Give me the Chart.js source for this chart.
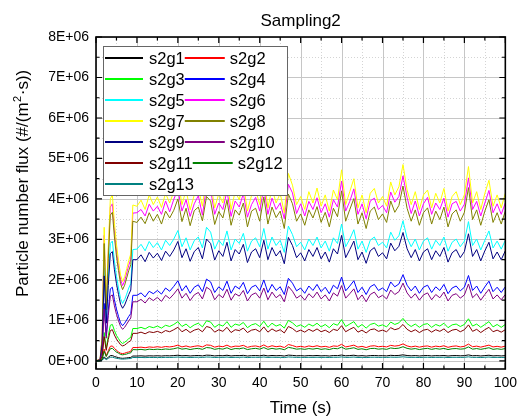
<!DOCTYPE html>
<html><head><meta charset="utf-8">
<script src="https://cdn.jsdelivr.net/npm/chart.js@4.4.1/dist/chart.umd.min.js"></script>
<style>html,body{margin:0;padding:0;background:#fff;}canvas{display:block;}</style>
</head><body>
<canvas id="c" width="523" height="419"></canvas>
<script>
// Time (s)
const time = [0,0.5,1,1.5,2,2.5,3,3.5,4,4.5,5,5.5,6,6.5,7,7.5,8,8.5,9,
10,11,12,13,14,15,16,17,18,19,20,21,22,23,24,25,26,27,28,29,30,31,32,33,34,35,36,37,38,39,
40,41,42,43,44,45,46,47,48,49,50,51,52,53,54,55,56,57,58,59,60,61,62,63,64,65,66,67,68,69,
70,71,72,73,74,75,76,77,78,79,80,81,82,83,84,85,86,87,88,89,90,91,92,93,94,95,96,97,98,99,100];

// Particle number flux, in units of 1E+06 #/(m^2.s)
const s2g1 = [0,0.001,0.002,0.02,0.10,0.046,0.09,0.13,0.133,0.11,0.094,0.081,0.069,0.064,0.068,0.074,0.081,0.086,0.12,
0.120,0.125,0.118,0.126,0.122,0.127,0.121,0.129,0.125,0.131,
0.140,0.126,0.133,0.122,0.130,0.134,0.124,0.142,0.138,0.123,
0.132,0.127,0.140,0.122,0.132,0.130,0.137,0.121,0.130,0.133,
0.126,0.141,0.123,0.134,0.127,0.132,0.120,0.143,0.136,0.126,
0.130,0.123,0.132,0.127,0.134,0.124,0.130,0.121,0.133,0.130,
0.145,0.126,0.132,0.140,0.123,0.130,0.120,0.131,0.134,0.127,
0.130,0.124,0.138,0.131,0.135,0.150,0.133,0.126,0.132,0.122,
0.130,0.133,0.123,0.131,0.127,0.134,0.121,0.130,0.132,0.126,
0.130,0.148,0.127,0.132,0.122,0.131,0.140,0.124,0.130,0.123,0.131];
const s2g2 = [0,0.002,0.004,0.054,0.29,0.126,0.25,0.36,0.37,0.31,0.26,0.22,0.19,0.18,0.19,0.21,0.22,0.24,0.33,
0.330,0.340,0.325,0.345,0.335,0.350,0.335,0.355,0.345,0.360,
0.390,0.345,0.370,0.340,0.360,0.375,0.345,0.395,0.385,0.340,
0.365,0.350,0.390,0.340,0.365,0.360,0.385,0.335,0.360,0.370,
0.345,0.395,0.340,0.375,0.350,0.365,0.330,0.405,0.380,0.345,
0.360,0.340,0.370,0.350,0.375,0.345,0.360,0.335,0.370,0.360,
0.410,0.345,0.365,0.390,0.340,0.360,0.330,0.365,0.375,0.350,
0.360,0.345,0.385,0.365,0.380,0.420,0.370,0.345,0.365,0.340,
0.360,0.370,0.340,0.365,0.350,0.375,0.335,0.360,0.370,0.345,
0.360,0.415,0.350,0.365,0.340,0.365,0.390,0.345,0.360,0.340,0.365];
const s2g3 = [0,0.004,0.009,0.13,0.70,0.31,0.62,0.88,0.90,0.75,0.63,0.55,0.47,0.43,0.46,0.50,0.55,0.58,0.80,
0.80,0.83,0.79,0.85,0.82,0.86,0.81,0.88,0.85,0.90,
0.97,0.85,0.91,0.82,0.89,0.93,0.84,0.99,0.96,0.83,
0.90,0.86,0.97,0.83,0.91,0.88,0.95,0.82,0.89,0.92,
0.85,0.98,0.83,0.93,0.86,0.90,0.81,1.00,0.94,0.85,
0.89,0.83,0.91,0.86,0.93,0.84,0.90,0.82,0.92,0.88,
1.02,0.85,0.91,0.97,0.83,0.90,0.81,0.90,0.93,0.86,
0.89,0.84,0.96,0.90,0.94,1.05,0.92,0.85,0.91,0.83,
0.90,0.92,0.83,0.90,0.86,0.93,0.82,0.89,0.91,0.85,
0.90,1.04,0.86,0.91,0.83,0.90,0.97,0.84,0.90,0.83,0.90];
const s2g4 = [0,0.01,0.02,0.27,1.42,0.62,1.25,1.78,1.82,1.51,1.28,1.10,0.94,0.87,0.93,1.01,1.10,1.17,1.62,
1.62,1.68,1.58,1.72,1.66,1.74,1.65,1.80,1.72,1.84,
1.98,1.73,1.86,1.67,1.82,1.88,1.71,2.02,1.95,1.69,
1.83,1.74,1.97,1.67,1.85,1.78,1.94,1.66,1.82,1.87,
1.73,2.00,1.69,1.89,1.74,1.83,1.64,2.04,1.92,1.73,
1.80,1.67,1.85,1.74,1.89,1.71,1.82,1.66,1.87,1.78,
2.07,1.73,1.85,1.98,1.69,1.82,1.64,1.83,1.89,1.74,
1.80,1.71,1.95,1.83,1.90,2.13,1.87,1.73,1.85,1.67,
1.82,1.87,1.69,1.83,1.74,1.89,1.66,1.80,1.85,1.73,
1.82,2.11,1.74,1.85,1.67,1.83,1.97,1.71,1.82,1.69,1.83];
const s2g5 = [0,0.01,0.03,0.44,2.30,1.02,2.03,2.90,2.96,2.47,2.09,1.80,1.54,1.42,1.51,1.65,1.80,1.91,2.75,
2.76,2.88,2.72,2.95,2.80,2.92,2.74,2.98,2.85,3.01,
3.22,2.82,3.04,2.74,2.97,3.06,2.79,3.30,3.18,2.76,
2.98,2.85,3.21,2.74,3.01,2.90,3.15,2.71,2.96,3.04,
2.82,3.27,2.76,3.06,2.85,2.98,2.68,3.33,3.12,2.82,
2.93,2.74,3.01,2.85,3.06,2.79,2.96,2.71,3.04,2.90,
3.38,2.82,3.01,3.24,2.76,2.96,2.68,2.98,3.06,2.85,
2.93,2.79,3.18,2.98,3.09,3.46,3.04,2.82,3.01,2.74,
2.96,3.04,2.76,2.98,2.85,3.06,2.71,2.93,3.01,2.82,
2.96,3.44,2.85,3.01,2.74,2.98,3.21,2.79,2.96,2.76,2.98];
const s2g6 = [0,0.02,0.04,0.57,3.10,1.33,2.66,3.80,3.88,3.23,2.74,2.36,2.01,1.86,1.98,2.17,2.36,2.51,3.65,
3.66,3.74,3.58,3.87,3.70,3.82,3.62,3.95,3.68,3.99,
4.24,3.70,3.98,3.57,3.88,4.08,3.60,4.31,4.22,3.62,
3.90,3.74,4.20,3.57,3.95,3.80,4.13,3.55,3.86,4.04,
3.70,4.28,3.62,4.02,3.74,3.90,3.51,4.36,4.15,3.64,
3.88,3.58,3.94,3.74,4.03,3.66,3.88,3.55,3.98,3.80,
4.44,3.70,3.94,4.25,3.62,3.88,3.51,3.95,4.02,3.74,
3.84,3.66,4.17,3.92,4.06,4.57,4.04,3.64,3.95,3.58,
3.88,4.04,3.62,3.90,3.74,4.02,3.55,3.88,3.94,3.70,
3.87,4.52,3.74,3.94,3.58,3.90,4.21,3.66,3.88,3.62,3.90];
const s2g7 = [0,0.02,0.04,0.60,3.30,1.40,2.80,4.00,4.10,3.40,2.88,2.48,2.12,1.96,2.08,2.28,2.48,2.64,3.85,
3.82,3.97,3.74,4.10,3.86,4.05,3.79,4.14,3.90,4.18,
4.50,3.86,4.22,3.73,4.10,4.26,3.82,4.58,4.42,3.78,
4.13,3.90,4.46,3.74,4.18,3.98,4.38,3.70,4.09,4.22,
3.86,4.55,3.78,4.26,3.90,4.14,3.66,4.63,4.34,3.86,
4.06,3.74,4.18,3.90,4.27,3.82,4.10,3.70,4.22,3.98,
4.72,3.86,4.18,4.50,3.78,4.10,3.66,4.14,4.26,3.90,
4.06,3.82,4.42,4.10,4.30,4.85,4.22,3.86,4.18,3.74,
4.10,4.22,3.78,4.14,3.90,4.26,3.70,4.06,4.18,3.86,
4.10,4.80,3.90,4.18,3.74,4.14,4.46,3.82,4.10,3.78,4.14];
const s2g8 = [0,0.02,0.04,0.54,2.90,1.26,2.52,3.60,3.67,3.06,2.59,2.23,1.91,1.76,1.87,2.05,2.23,2.38,3.45,
3.42,3.55,3.39,3.66,3.45,3.62,3.38,3.70,3.53,3.72,
4.00,3.44,3.77,3.34,3.71,3.80,3.46,4.06,3.95,3.37,
3.69,3.53,3.97,3.35,3.73,3.60,3.90,3.31,3.70,3.77,
3.45,4.05,3.38,3.80,3.54,3.70,3.27,4.12,3.88,3.45,
3.63,3.35,3.73,3.53,3.81,3.42,3.67,3.31,3.77,3.56,
4.20,3.45,3.74,4.01,3.38,3.66,3.27,3.70,3.80,3.49,
3.63,3.42,3.95,3.67,3.84,4.32,3.77,3.45,3.73,3.35,
3.66,3.78,3.38,3.70,3.49,3.80,3.31,3.63,3.73,3.45,
3.67,4.28,3.49,3.73,3.35,3.70,3.98,3.42,3.66,3.38,3.70];
const s2g9 = [0,0.01,0.03,0.40,2.10,0.93,1.86,2.65,2.70,2.25,1.91,1.64,1.40,1.30,1.38,1.51,1.64,1.75,2.50,
2.50,2.62,2.45,2.68,2.54,2.66,2.48,2.71,2.58,2.74,
2.95,2.55,2.77,2.46,2.70,2.80,2.52,3.01,2.90,2.49,
2.72,2.58,2.93,2.47,2.75,2.64,2.88,2.43,2.69,2.77,
2.55,2.98,2.50,2.80,2.59,2.72,2.40,3.05,2.85,2.55,
2.67,2.47,2.75,2.58,2.80,2.52,2.69,2.44,2.77,2.64,
3.10,2.55,2.75,2.96,2.50,2.69,2.41,2.72,2.80,2.58,
2.67,2.52,2.91,2.72,2.83,3.17,2.77,2.55,2.75,2.47,
2.69,2.77,2.50,2.72,2.58,2.80,2.44,2.67,2.75,2.55,
2.70,3.14,2.58,2.75,2.47,2.72,2.93,2.52,2.69,2.50,2.72];
const s2g10 = [0,0.01,0.02,0.24,1.28,0.56,1.12,1.60,1.63,1.36,1.15,0.99,0.85,0.78,0.83,0.91,0.99,1.06,1.46,
1.46,1.52,1.43,1.56,1.49,1.57,1.47,1.62,1.54,1.65,
1.78,1.55,1.67,1.49,1.63,1.69,1.53,1.82,1.75,1.51,
1.64,1.56,1.77,1.50,1.66,1.60,1.74,1.48,1.63,1.68,
1.55,1.80,1.51,1.70,1.56,1.64,1.46,1.84,1.72,1.55,
1.62,1.50,1.66,1.56,1.70,1.53,1.63,1.48,1.68,1.60,
1.86,1.55,1.66,1.78,1.51,1.63,1.46,1.64,1.70,1.56,
1.62,1.53,1.75,1.64,1.71,1.92,1.68,1.55,1.66,1.50,
1.63,1.68,1.51,1.64,1.56,1.70,1.48,1.62,1.66,1.55,
1.63,1.90,1.56,1.66,1.50,1.64,1.77,1.53,1.63,1.51,1.64];
const s2g11 = [0,0.004,0.008,0.11,0.60,0.26,0.53,0.75,0.77,0.64,0.54,0.47,0.40,0.37,0.39,0.43,0.47,0.50,0.68,
0.68,0.71,0.67,0.72,0.70,0.73,0.69,0.75,0.72,0.77,
0.83,0.72,0.78,0.70,0.76,0.79,0.72,0.85,0.82,0.71,
0.77,0.73,0.83,0.70,0.77,0.75,0.81,0.70,0.76,0.78,
0.72,0.84,0.71,0.79,0.73,0.77,0.69,0.85,0.80,0.72,
0.76,0.71,0.78,0.73,0.79,0.72,0.76,0.70,0.78,0.75,
0.87,0.72,0.78,0.83,0.71,0.76,0.69,0.77,0.79,0.73,
0.76,0.72,0.82,0.77,0.80,0.90,0.78,0.72,0.77,0.70,
0.76,0.78,0.71,0.77,0.73,0.79,0.70,0.76,0.78,0.72,
0.77,0.89,0.73,0.78,0.70,0.77,0.83,0.72,0.76,0.71,0.77];
const s2g12 = [0,0.002,0.003,0.045,0.24,0.105,0.21,0.30,0.31,0.26,0.22,0.19,0.16,0.15,0.16,0.17,0.19,0.20,0.28,
0.275,0.285,0.270,0.290,0.280,0.290,0.280,0.295,0.285,0.300,
0.325,0.290,0.305,0.280,0.300,0.310,0.285,0.330,0.320,0.285,
0.305,0.290,0.325,0.280,0.305,0.300,0.320,0.280,0.300,0.310,
0.290,0.330,0.285,0.310,0.290,0.305,0.275,0.335,0.315,0.290,
0.300,0.285,0.305,0.290,0.310,0.285,0.300,0.280,0.310,0.300,
0.340,0.290,0.305,0.325,0.285,0.300,0.275,0.305,0.310,0.290,
0.300,0.285,0.320,0.305,0.315,0.350,0.310,0.290,0.305,0.280,
0.300,0.310,0.285,0.305,0.290,0.310,0.280,0.300,0.305,0.290,
0.300,0.345,0.290,0.305,0.285,0.305,0.325,0.285,0.300,0.285,0.305];
const s2g13 = [0,0.001,0.001,0.014,0.072,0.032,0.063,0.09,0.092,0.077,0.065,0.056,0.048,0.044,0.047,0.051,0.056,0.059,0.085,
0.082,0.085,0.081,0.086,0.083,0.087,0.082,0.088,0.085,0.089,
0.095,0.086,0.090,0.083,0.088,0.091,0.085,0.096,0.093,0.084,
0.089,0.086,0.095,0.083,0.089,0.088,0.093,0.082,0.088,0.090,
0.086,0.096,0.084,0.091,0.086,0.089,0.082,0.097,0.092,0.086,
0.088,0.084,0.089,0.086,0.091,0.085,0.088,0.083,0.090,0.088,
0.098,0.086,0.089,0.095,0.084,0.088,0.082,0.089,0.091,0.086,
0.088,0.085,0.093,0.089,0.092,0.101,0.090,0.086,0.089,0.083,
0.088,0.090,0.084,0.089,0.086,0.091,0.083,0.088,0.089,0.086,
0.088,0.100,0.086,0.089,0.083,0.089,0.095,0.085,0.088,0.084,0.089];

const seriesNames = ['s2g1','s2g2','s2g3','s2g4','s2g5','s2g6','s2g7','s2g8','s2g9','s2g10','s2g11','s2g12','s2g13'];
const seriesValues = [s2g1,s2g2,s2g3,s2g4,s2g5,s2g6,s2g7,s2g8,s2g9,s2g10,s2g11,s2g12,s2g13];
const seriesColors = ['#000000','#FF0000','#00FF00','#0000FF','#00FFFF','#FF00FF','#FFFF00','#808000','#000080','#800080','#800000','#008000','#008080'];

const xTickValues = [0,10,20,30,40,50,60,70,80,90,100];
const xTickLabels = ['0','10','20','30','40','50','60','70','80','90','100'];
const xMinorValues = [5,15,25,35,45,55,65,75,85,95];
const yTickValues = [0,1,2,3,4,5,6,7,8];
const yTickLabels = ['0E+00','1E+06','2E+06','3E+06','4E+06','5E+06','6E+06','7E+06','8E+06'];
const yMinorValues = [0.5,1.5,2.5,3.5,4.5,5.5,6.5,7.5];

const chartTitle = 'Sampling2';
const xTitle = 'Time (s)';
const yTitleParts = ['Particle number flux (#/(m', '2', '\u00B7s))'];

const FONT = "'Liberation Sans', Arial, Helvetica, sans-serif";

const decor = {
  id: 'decor',
  beforeDatasetsDraw(chart) {
    const {ctx, chartArea: a, scales: {x, y}} = chart;
    ctx.save();
    ctx.lineWidth = 1;
    ctx.strokeStyle = '#d4d4d4';
    ctx.setLineDash([1, 2]);
    ctx.beginPath();
    xMinorValues.forEach(v => { const p = Math.round(x.getPixelForValue(v)) + 0.5; ctx.moveTo(p, a.top); ctx.lineTo(p, a.bottom); });
    yMinorValues.forEach(v => { const p = Math.round(y.getPixelForValue(v)) + 0.5; ctx.moveTo(a.left, p); ctx.lineTo(a.right, p); });
    ctx.stroke();
    ctx.setLineDash([]);
    ctx.strokeStyle = '#c6c6c6';
    ctx.beginPath();
    xTickValues.forEach(v => { const p = Math.round(x.getPixelForValue(v)) + 0.5; ctx.moveTo(p, a.top); ctx.lineTo(p, a.bottom); });
    yTickValues.forEach(v => { const p = Math.round(y.getPixelForValue(v)) + 0.5; ctx.moveTo(a.left, p); ctx.lineTo(a.right, p); });
    ctx.stroke();
    ctx.restore();
  },
  afterDatasetsDraw(chart) {
    const {ctx, chartArea: a, scales: {x, y}} = chart;
    ctx.save();
    // ticks (inward, all four sides)
    ctx.strokeStyle = '#000';
    ctx.lineWidth = 1.2;
    ctx.beginPath();
    const xt = (vals, len) => vals.forEach(v => { const p = x.getPixelForValue(v);
      ctx.moveTo(p, a.bottom); ctx.lineTo(p, a.bottom - len); ctx.moveTo(p, a.top); ctx.lineTo(p, a.top + len); });
    const yt = (vals, len) => vals.forEach(v => { const p = y.getPixelForValue(v);
      ctx.moveTo(a.left, p); ctx.lineTo(a.left + len, p); ctx.moveTo(a.right, p); ctx.lineTo(a.right - len, p); });
    xt(xTickValues, 6); xt(xMinorValues, 3.5);
    yt(yTickValues, 6); yt(yMinorValues, 3.5);
    ctx.stroke();
    // frame
    ctx.lineWidth = 1.6;
    ctx.strokeRect(a.left, a.top, a.right - a.left, a.bottom - a.top);

    // legend
    const rows = [[0,1],[2,3],[4,5],[6,7],[8,9],[10,11],[12]];
    ctx.fillStyle = '#fff';
    ctx.fillRect(103, 46, 184, 149);
    ctx.strokeStyle = '#666';
    ctx.lineWidth = 1;
    ctx.strokeRect(103.5, 46.5, 184, 149);
    ctx.font = '16.5px ' + FONT;
    ctx.textBaseline = 'middle';
    ctx.textAlign = 'left';
    rows.forEach((row, r) => {
      const yy = 58 + r * 21;
      let xx = 105;
      row.forEach((i, k) => {
        const len = k === 0 ? 38 : 40;
        ctx.strokeStyle = seriesColors[i];
        ctx.lineWidth = 1.8;
        ctx.beginPath(); ctx.moveTo(xx, yy); ctx.lineTo(xx + len, yy); ctx.stroke();
        xx += len + (k === 0 ? 6 : 5);
        ctx.fillStyle = '#000';
        ctx.fillText(seriesNames[i], xx, yy + 1);
        xx += ctx.measureText(seriesNames[i]).width;
      });
    });

    // titles
    ctx.fillStyle = '#000';
    ctx.textAlign = 'center';
    ctx.font = '17px ' + FONT;
    ctx.fillText(chartTitle, (a.left + a.right) / 2, 21);
    ctx.fillText(xTitle, (a.left + a.right) / 2, 408);
    // y title rotated
    ctx.translate(23, 297);
    ctx.rotate(-Math.PI / 2);
    ctx.textAlign = 'left';
    ctx.font = '17px ' + FONT;
    let px = 0;
    ctx.fillText(yTitleParts[0], px, 0); px += ctx.measureText(yTitleParts[0]).width;
    ctx.font = '11px ' + FONT;
    ctx.fillText(yTitleParts[1], px + 0.5, -5); px += ctx.measureText(yTitleParts[1]).width + 1;
    ctx.font = '17px ' + FONT;
    ctx.fillText(yTitleParts[2], px, 0);
    ctx.restore();
  }
};

const datasets = seriesValues.map((vals, i) => ({
  label: seriesNames[i],
  data: vals.map((v, j) => ({x: time[j], y: v})),
  borderColor: seriesColors[i],
  backgroundColor: seriesColors[i],
  borderWidth: 1,
  pointRadius: 0,
  tension: 0,
  fill: false,
  order: -i
}));

new Chart(document.getElementById('c'), {
  type: 'line',
  data: {datasets},
  plugins: [decor],
  options: {
    responsive: false,
    animation: false,
    devicePixelRatio: 1,
    layout: {padding: {top: 37, right: 17, left: 0, bottom: 0}},
    plugins: {legend: {display: false}, title: {display: false}, tooltip: {enabled: false}},
    scales: {
      x: {
        type: 'linear', min: 0, max: 100,
        grid: {display: false, drawTicks: false}, border: {display: false},
        ticks: {color: '#000', font: {family: FONT, size: 14}, padding: 6, maxRotation: 0, autoSkip: false,
          callback: v => xTickLabels[xTickValues.indexOf(v)]},
        afterBuildTicks: s => { s.ticks = xTickValues.map(v => ({value: v})); },
        afterFit: s => { s.height = 50; }
      },
      y: {
        type: 'linear', min: -0.2, max: 8,
        grid: {display: false, drawTicks: false}, border: {display: false},
        ticks: {color: '#000', font: {family: FONT, size: 14}, padding: 7, autoSkip: false,
          callback: v => yTickLabels[yTickValues.indexOf(v)]},
        afterBuildTicks: s => { s.ticks = yTickValues.map(v => ({value: v})); },
        afterFit: s => { s.width = 96; }
      }
    }
  }
});
</script>
</body></html>
